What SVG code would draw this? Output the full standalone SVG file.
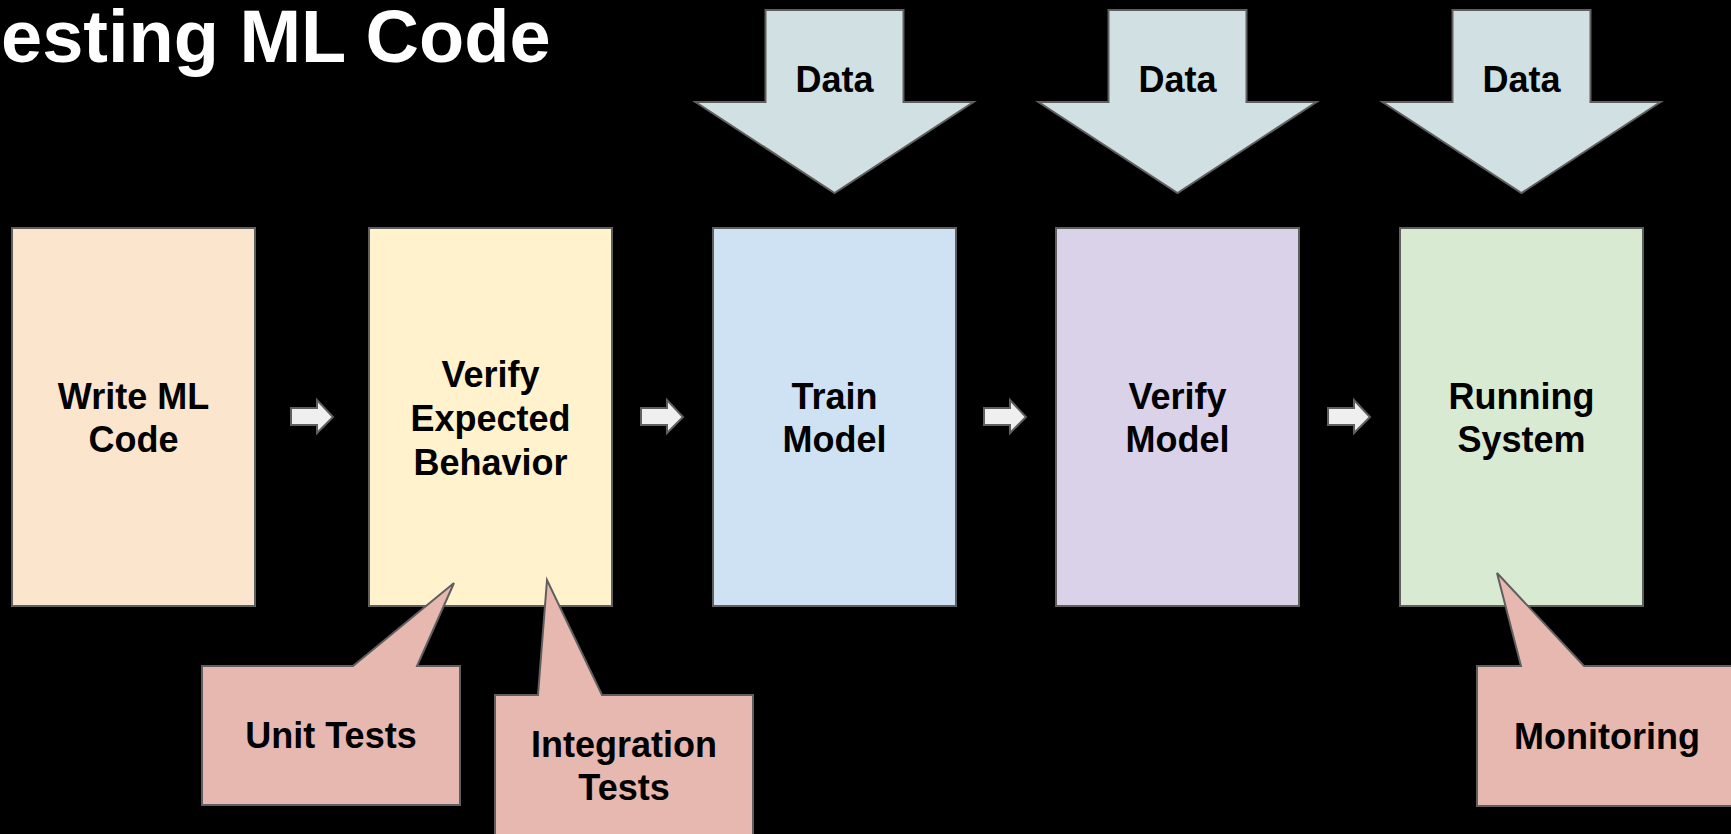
<svg xmlns="http://www.w3.org/2000/svg" width="1731" height="834" viewBox="0 0 1731 834">
  <style>
    .shape { stroke: #5f5f5f; stroke-width: 2; stroke-linejoin: miter; }
    .label { font-family: "Liberation Sans", Arial, sans-serif; font-weight: bold; font-size: 36px; fill: #000; text-anchor: middle; }
    .title { font-family: "Liberation Sans", Arial, sans-serif; font-weight: bold; font-size: 74px; fill: #fff; }
    .step { stroke: #5f5f5f; stroke-width: 2; fill: #efefef; }
  </style>
  <defs>
    <!-- down arrow carrying data into a stage, centred on x=0 -->
    <polygon id="dataArrow" points="-69,10 69,10 69,102 139,102 0,193 -139,102 -69,102" fill="#d0e0e3" stroke="#5f5f5f" stroke-width="2"/>
    <!-- small block arrow between stages, origin at its tail -->
    <polygon id="stepArrow" points="0,8 26,8 26,0 42,17 26,33 26,25 0,25" class="step"/>
  </defs>

  <rect width="1731" height="834" fill="#000"/>

  <text class="title" x="1" y="62">esting ML Code</text>

  <!-- pipeline stages -->
  <g id="write-code">
    <rect class="shape" x="12" y="228" width="243" height="378" fill="#fce5cd"/>
    <text class="label" x="133.5" y="409">Write ML</text>
    <text class="label" x="133.5" y="452">Code</text>
  </g>
  <g id="verify-behavior">
    <rect class="shape" x="369" y="228" width="243" height="378" fill="#fff2cc"/>
    <text class="label" x="490.5" y="387">Verify</text>
    <text class="label" x="490.5" y="431">Expected</text>
    <text class="label" x="490.5" y="475">Behavior</text>
  </g>
  <g id="train-model">
    <rect class="shape" x="713" y="228" width="243" height="378" fill="#cfe2f3"/>
    <text class="label" x="834.5" y="409">Train</text>
    <text class="label" x="834.5" y="452">Model</text>
  </g>
  <g id="verify-model">
    <rect class="shape" x="1056" y="228" width="243" height="378" fill="#d9d2e9"/>
    <text class="label" x="1177.5" y="409">Verify</text>
    <text class="label" x="1177.5" y="452">Model</text>
  </g>
  <g id="running-system">
    <rect class="shape" x="1400" y="228" width="243" height="378" fill="#d9ead3"/>
    <text class="label" x="1521.5" y="409">Running</text>
    <text class="label" x="1521.5" y="452">System</text>
  </g>

  <!-- data inputs -->
  <g id="data-train">
    <use href="#dataArrow" x="834.5"/>
    <text class="label" x="834.5" y="92">Data</text>
  </g>
  <g id="data-verify">
    <use href="#dataArrow" x="1177.5"/>
    <text class="label" x="1177.5" y="92">Data</text>
  </g>
  <g id="data-running">
    <use href="#dataArrow" x="1521.5"/>
    <text class="label" x="1521.5" y="92">Data</text>
  </g>

  <!-- callouts -->
  <g id="unit-tests">
    <polygon class="shape" fill="#e6b8af" points="202,666 353,666 454,583 417,666 460,666 460,805 202,805"/>
    <text class="label" x="331" y="748">Unit Tests</text>
  </g>
  <g id="integration-tests">
    <polygon class="shape" fill="#e6b8af" points="495,695 538,695 547,580 602,695 753,695 753,845 495,845"/>
    <text class="label" x="624" y="757">Integration</text>
    <text class="label" x="624" y="800">Tests</text>
  </g>
  <g id="monitoring">
    <polygon class="shape" fill="#e6b8af" points="1477,666 1521,666 1497,573 1584,666 1745,666 1745,806 1477,806"/>
    <text class="label" x="1607" y="749">Monitoring</text>
  </g>

  <!-- flow between stages -->
  <g id="connectors">
    <use href="#stepArrow" x="291" y="400"/>
    <use href="#stepArrow" x="641" y="400"/>
    <use href="#stepArrow" x="984" y="400"/>
    <use href="#stepArrow" x="1328" y="400"/>
  </g>
</svg>
